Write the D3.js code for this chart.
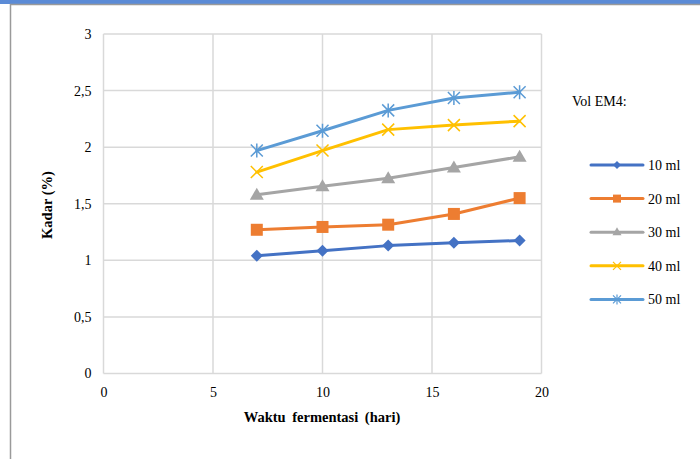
<!DOCTYPE html>
<html><head><meta charset="utf-8">
<script src="https://cdn.jsdelivr.net/npm/d3@7"></script>
<style>body{margin:0;background:#fff}svg{display:block}svg text{font-family:"Liberation Serif",serif !important}</style>
</head><body><svg id="c" width="700" height="459"></svg>
<script>
const days = [7, 10, 13, 16, 19];
const seriesNames = ["10 ml", "20 ml", "30 ml", "40 ml", "50 ml"];
const v10 = [1.04, 1.085, 1.13, 1.155, 1.175];
const v20 = [1.27, 1.295, 1.315, 1.41, 1.55];
const v30 = [1.58, 1.655, 1.725, 1.82, 1.915];
const v40 = [1.78, 1.97, 2.155, 2.195, 2.23];
const v50 = [1.97, 2.145, 2.325, 2.435, 2.485];
const colors = ["#4472c4", "#ed7d31", "#a5a5a5", "#ffc000", "#5b9bd5"];
const markers = ["diamond", "square", "triangle", "x", "star"];
const xTicks = [0, 5, 10, 15, 20];
const yTicks = [0, 0.5, 1, 1.5, 2, 2.5, 3];
const allVals = [v10, v20, v30, v40, v50];

const svg = d3.select("#c");
// frame
svg.append("rect").attr("x",0).attr("y",0).attr("width",700).attr("height",4).attr("fill","#5b8bd6");
svg.append("line").attr("x1",10).attr("x2",700).attr("y1",4.5).attr("y2",4.5).attr("stroke","#9a9a9a").attr("stroke-width",1.5);
svg.append("line").attr("x1",10.5).attr("x2",10.5).attr("y1",4).attr("y2",459).attr("stroke","#9a9a9a").attr("stroke-width",1.5);

const x = d3.scaleLinear().domain([0,20]).range([103.5,541.5]);
const y = d3.scaleLinear().domain([0,3]).range([373.5,34]);

const g = svg.append("g");
g.selectAll(".vg").data(xTicks).join("line").attr("x1",d=>x(d)).attr("x2",d=>x(d)).attr("y1",y(0)).attr("y2",y(3)).attr("stroke","#d9d9d9").attr("stroke-width",1.5);
g.selectAll(".hg").data(yTicks).join("line").attr("x1",x(0)).attr("x2",x(20)).attr("y1",d=>y(d)).attr("y2",d=>y(d)).attr("stroke","#d9d9d9").attr("stroke-width",1.5);

const fmt = d => String(d).replace(".", ",");
const xa = svg.append("g").attr("transform",`translate(0,${y(0)})`).call(d3.axisBottom(x).tickValues(xTicks).tickSize(0).tickPadding(14).tickFormat(fmt));
const ya = svg.append("g").attr("transform",`translate(${x(0)},0)`).call(d3.axisLeft(y).tickValues(yTicks).tickSize(0).tickPadding(12).tickFormat(fmt));
[xa, ya].forEach(a => { a.select(".domain").remove(); a.attr("font-family","Liberation Serif").attr("font-size",14); a.selectAll("text").attr("fill","#000"); });

svg.append("text").attr("x",322).attr("y",422).attr("text-anchor","middle").attr("font-size",14.5).attr("font-weight","bold").attr("word-spacing","3px").text("Waktu fermentasi (hari)");
svg.append("text").attr("transform","translate(52,205) rotate(-90)").attr("text-anchor","middle").attr("font-size",14.5).attr("font-weight","bold").text("Kadar (%)");

function drawMarker(sel, type, color, cx, cy) {
  if (type === "diamond") sel.append("path").attr("d",`M${cx},${cy-6}L${cx+6},${cy}L${cx},${cy+6}L${cx-6},${cy}Z`).attr("fill",color);
  else if (type === "square") sel.append("rect").attr("x",cx-6).attr("y",cy-6).attr("width",12).attr("height",12).attr("fill",color);
  else if (type === "triangle") sel.append("path").attr("d",`M${cx},${cy-7}L${cx+7},${cy+5}L${cx-7},${cy+5}Z`).attr("fill",color);
  else if (type === "x") sel.append("path").attr("d",`M${cx-6},${cy-6}L${cx+6},${cy+6}M${cx+6},${cy-6}L${cx-6},${cy+6}`).attr("stroke",color).attr("stroke-width",1.5);
  else if (type === "star") sel.append("path").attr("d",`M${cx-6},${cy-6}L${cx+6},${cy+6}M${cx+6},${cy-6}L${cx-6},${cy+6}M${cx},${cy-7}L${cx},${cy+7}`).attr("stroke",color).attr("stroke-width",1.5);
}
function drawLegendMarker(sel, type, color, cx, cy) {
  if (type === "diamond") sel.append("path").attr("d",`M${cx},${cy-4}L${cx+4},${cy}L${cx},${cy+4}L${cx-4},${cy}Z`).attr("fill",color);
  else if (type === "square") sel.append("rect").attr("x",cx-4).attr("y",cy-4).attr("width",8).attr("height",8).attr("fill",color);
  else if (type === "triangle") sel.append("path").attr("d",`M${cx},${cy-5}L${cx+4.5},${cy+3}L${cx-4.5},${cy+3}Z`).attr("fill",color);
  else if (type === "x") sel.append("path").attr("d",`M${cx-4},${cy-4}L${cx+4},${cy+4}M${cx+4},${cy-4}L${cx-4},${cy+4}`).attr("stroke",color).attr("stroke-width",1.2);
  else if (type === "star") sel.append("path").attr("d",`M${cx-4},${cy-4}L${cx+4},${cy+4}M${cx+4},${cy-4}L${cx-4},${cy+4}M${cx},${cy-5}L${cx},${cy+5}`).attr("stroke",color).attr("stroke-width",1.2);
}

const line = d3.line().x(d=>x(d[0])).y(d=>y(d[1]));
allVals.forEach((vals,i) => {
  const pts = days.map((d,j)=>[d, vals[j]]);
  const sg = svg.append("g");
  sg.append("path").attr("d",line(pts)).attr("fill","none").attr("stroke",colors[i]).attr("stroke-width",3).attr("stroke-linejoin","round").attr("stroke-linecap","round");
  pts.forEach(p => drawMarker(sg, markers[i], colors[i], x(p[0]), y(p[1])));
});

svg.append("text").attr("x",572).attr("y",106).attr("font-size",14).text("Vol EM4:");
const lg = svg.append("g");
seriesNames.forEach((n,i) => {
  const ly = 165 + i*33.6;
  lg.append("line").attr("x1",591).attr("x2",643).attr("y1",ly).attr("y2",ly).attr("stroke",colors[i]).attr("stroke-width",3).attr("stroke-linecap","round");
  drawLegendMarker(lg, markers[i], colors[i], 617, ly);
  lg.append("text").attr("x",648).attr("y",ly+5).attr("font-size",14).text(n);
});
</script></body></html>
